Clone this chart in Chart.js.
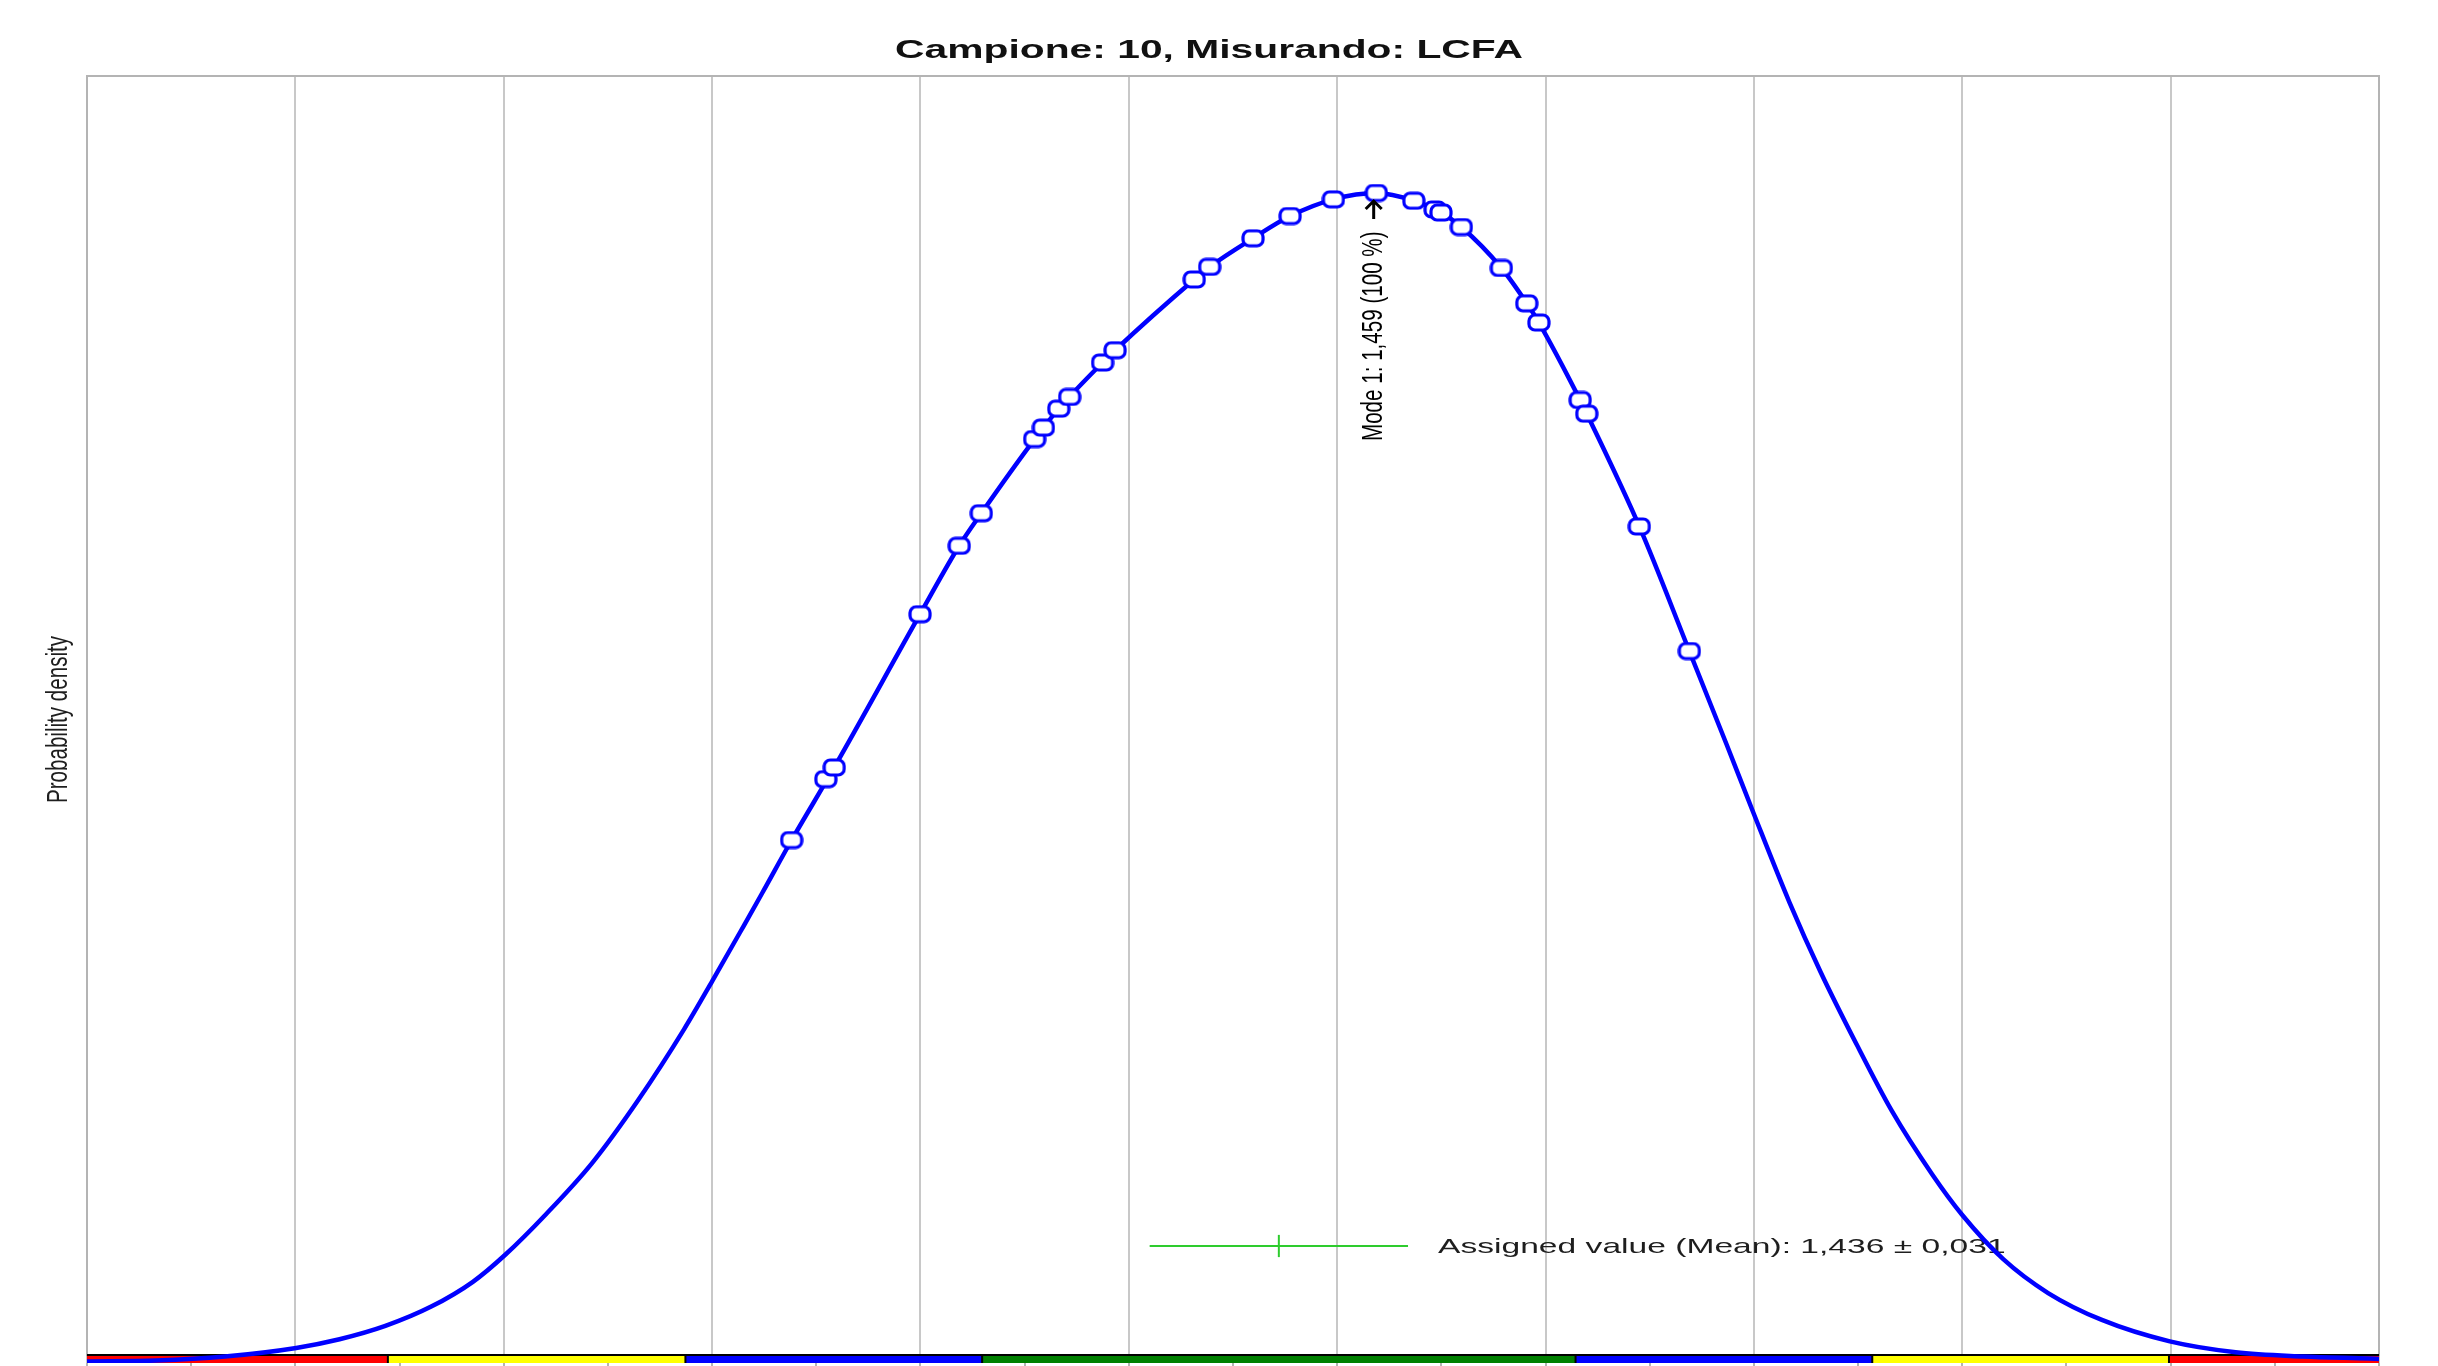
<!DOCTYPE html>
<html>
<head>
<meta charset="utf-8">
<title>Campione: 10, Misurando: LCFA</title>
<script src="https://cdn.jsdelivr.net/npm/chart.js@4.4.1/dist/chart.umd.min.js"></script>
<style>
  html, body { margin:0; padding:0; background:#fff; overflow:hidden; }
  canvas { display:block; }
</style>
</head>
<body>
<canvas id="kernelChart" width="2438" height="1366"></canvas>
<script>
// Kernel density of the results (relative density, mode = 1)
const curveX = [1.150, 1.1666, 1.1831, 1.2002, 1.2106, 1.2216, 1.2326, 1.2426, 1.2503, 1.2602,
  1.2712, 1.2822, 1.2933, 1.3001, 1.3076, 1.3120, 1.3191, 1.3293, 1.3499, 1.3593,
  1.3646, 1.3774, 1.3832, 1.3937, 1.3967, 1.4157, 1.4194, 1.4298, 1.4387, 1.4491,
  1.4594, 1.4684, 1.4749, 1.4798, 1.4894, 1.4955, 1.4984, 1.5083, 1.5099, 1.5225,
  1.5345, 1.5435, 1.5499, 1.5585, 1.5660, 1.5746, 1.5831, 1.5928, 1.5999, 1.6099,
  1.6206, 1.6335, 1.6498, 1.6656, 1.6817, 1.6977, 1.700];
const curveY = [0.0013, 0.0021, 0.0056, 0.0129, 0.0203, 0.0317, 0.0482, 0.0694, 0.0923, 0.1274,
  0.1709, 0.2244, 0.2854, 0.3268, 0.3737, 0.4015, 0.4470, 0.5090, 0.6400, 0.6985,
  0.7263, 0.7897, 0.8157, 0.8551, 0.8656, 0.9261, 0.9369, 0.9613, 0.9803, 0.9946,
  1.0000, 0.9934, 0.9833, 0.9709, 0.9359, 0.9057, 0.8893, 0.8231, 0.8114, 0.7150,
  0.6085, 0.5282, 0.4701, 0.3940, 0.3342, 0.2726, 0.2154, 0.1611, 0.1269, 0.0885,
  0.0598, 0.0368, 0.0185, 0.0092, 0.0056, 0.0038, 0.0035];

// Participants' results, plotted on the curve
const resultX = [1.3191, 1.3273, 1.3293, 1.3499, 1.3593, 1.3646, 1.3774, 1.3795, 1.3832, 1.3858,
  1.3937, 1.3967, 1.4157, 1.4194, 1.4298, 1.4387, 1.4491, 1.4594, 1.4684, 1.4735,
  1.4749, 1.4798, 1.4894, 1.4955, 1.4984, 1.5083, 1.5099, 1.5225, 1.5345];
const resultY = [0.4470, 0.4990, 0.5090, 0.6400, 0.6985, 0.7263, 0.7897, 0.7995, 0.8157, 0.8257,
  0.8551, 0.8656, 0.9261, 0.9369, 0.9613, 0.9803, 0.9946, 1.0000, 0.9934, 0.9859,
  0.9833, 0.9709, 0.9359, 0.9057, 0.8893, 0.8231, 0.8114, 0.7150, 0.6085];

// x axis ticks, a gridline on every second one
const xTicks = [1.15, 1.175, 1.20, 1.225, 1.25, 1.275, 1.30, 1.325, 1.35, 1.375, 1.40, 1.425,
  1.45, 1.475, 1.50, 1.525, 1.55, 1.575, 1.60, 1.625, 1.65, 1.675, 1.70];

// assigned value (mean) and uncertainty
const assignedValue = 1.436;
const assignedUnc = 0.031;
const assignedLevel = 0.1;
const assignedLabel = 'Assigned value (Mean): 1,436 \u00b1 0,031';

// mode
const modeValue = 1.459;
const modeDensity = 1.0;
const modeLabel = 'Mode 1: 1,459 (100 %)';

// colour band under the plot
const bandEdges = [1.15, 1.2222, 1.2936, 1.3648, 1.5072, 1.5784, 1.6496, 1.70];
const bandColors = ['#ff0000', '#ffff00', '#0000ff', '#008000', '#0000ff', '#ffff00', '#ff0000'];

const titleText = 'Campione: 10, Misurando: LCFA';
const yTitle = 'Probability density';

const FONT = '"Liberation Sans", Arial, sans-serif';

// open marker, wide and rounded like the stretched original
const marker = document.createElement('canvas');
marker.width = 24; marker.height = 19;
const mc = marker.getContext('2d');
mc.beginPath();
mc.roundRect(2, 2, 20, 15, 6);
mc.fillStyle = '#fff'; mc.fill();
mc.lineWidth = 3.2; mc.strokeStyle = '#0000ff'; mc.stroke();

function stretchedText(ctx, text, x, y, o){
  ctx.save();
  ctx.translate(x, y);
  ctx.scale(o.sx || 1, 1);
  if (o.rotate) ctx.rotate(o.rotate);
  ctx.font = o.font;
  ctx.fillStyle = o.color || '#111';
  ctx.textAlign = o.align || 'left';
  ctx.textBaseline = o.baseline || 'alphabetic';
  ctx.fillText(text, 0, 0);
  ctx.restore();
}

const decorations = {
  id: 'decorations',
  beforeDatasetsDraw(chart){
    const {ctx, chartArea: a, scales: {x, y}} = chart;
    const bTop = a.bottom - 8;
    ctx.save();
    // plot frame
    ctx.strokeStyle = '#b4b4b4';
    ctx.lineWidth = 2;
    ctx.strokeRect(a.left, a.top, a.right - a.left, bTop - a.top);
    // colour band
    for (let i = 0; i < bandColors.length; i++){
      const x0 = x.getPixelForValue(bandEdges[i]);
      const x1 = x.getPixelForValue(bandEdges[i + 1]);
      ctx.fillStyle = bandColors[i];
      ctx.fillRect(x0, bTop, x1 - x0, a.bottom - bTop);
    }
    ctx.strokeStyle = '#000';
    ctx.lineWidth = 2;
    ctx.beginPath();
    ctx.moveTo(a.left, bTop); ctx.lineTo(a.right, bTop);
    for (let i = 1; i < bandEdges.length - 1; i++){
      const xe = x.getPixelForValue(bandEdges[i]);
      ctx.moveTo(xe, bTop); ctx.lineTo(xe, a.bottom);
    }
    ctx.stroke();
    ctx.restore();

    // assigned value label (under the curve)
    const lx = x.getPixelForValue(assignedValue + assignedUnc) + 30;
    const ly = y.getPixelForValue(assignedLevel) + 7;
    stretchedText(ctx, assignedLabel, lx, ly, {font: '21px ' + FONT, sx: 1.6, color: '#1e1e1e'});
  },
  afterDatasetsDraw(chart){
    const {ctx, chartArea: a, scales: {x, y}} = chart;
    // mode arrow and label
    const px = x.getPixelForValue(modeValue) - 1;
    const tip = y.getPixelForValue(modeDensity) + 8;
    ctx.save();
    ctx.strokeStyle = '#000';
    ctx.lineWidth = 3;
    ctx.beginPath();
    ctx.moveTo(px - 8, tip + 8); ctx.lineTo(px, tip); ctx.lineTo(px + 8, tip + 8);
    ctx.moveTo(px, tip); ctx.lineTo(px, tip + 18);
    ctx.stroke();
    ctx.restore();
    stretchedText(ctx, modeLabel, px, tip + 240, {font: '20.6px ' + FONT, sx: 1.42,
      rotate: -Math.PI / 2, baseline: 'middle', color: '#000'});

    // title and y axis title
    stretchedText(ctx, titleText, 1209, 58, {font: 'bold 25.5px ' + FONT, sx: 1.6,
      align: 'center', color: '#111'});
    stretchedText(ctx, yTitle, 58.5, (a.top + a.bottom) / 2, {font: '20.6px ' + FONT, sx: 1.42,
      rotate: -Math.PI / 2, align: 'center', baseline: 'middle', color: '#1e1e1e'});
  }
};

const ctx = document.getElementById('kernelChart').getContext('2d');
const chart = new Chart(ctx, {
  type: 'line',
  data: {
    datasets: [
      {
        label: 'Results',
        data: resultX.map((v, i) => ({x: v, y: resultY[i]})),
        showLine: false,
        pointStyle: marker,
        pointRadius: 9
      },
      {
        label: 'Kernel density',
        data: curveX.map((v, i) => ({x: v, y: curveY[i]})),
        borderColor: '#0000ff',
        borderWidth: 4.5,
        pointRadius: 0,
        cubicInterpolationMode: 'monotone'
      },
      {
        label: 'Assigned value',
        data: [{x: assignedValue - assignedUnc, y: assignedLevel}, {x: assignedValue + assignedUnc, y: assignedLevel}],
        borderColor: '#2ecc2e',
        borderWidth: 2,
        pointRadius: 0
      },
      {
        label: 'Assigned value tick',
        data: [{x: assignedValue, y: assignedLevel - 0.0095}, {x: assignedValue, y: assignedLevel + 0.0095}],
        borderColor: '#2ecc2e',
        borderWidth: 2,
        pointRadius: 0
      }
    ]
  },
  options: {
    responsive: false,
    devicePixelRatio: 1,
    animation: false,
    events: [],
    layout: {autoPadding: false, padding: {left: 87, right: 59, top: 76, bottom: 0}},
    plugins: {legend: {display: false}, tooltip: {enabled: false}, title: {display: false}},
    scales: {
      x: {
        type: 'linear',
        min: 1.15,
        max: 1.70,
        afterBuildTicks: s => { s.ticks = xTicks.map(v => ({value: v})); },
        afterFit: s => { s.height = 3; },
        ticks: {display: false},
        border: {display: false},
        grid: {
          color: c => (c.index % 2 === 0 ? '#c8c8c8' : 'rgba(0,0,0,0)'),
          tickColor: '#b4b4b4',
          lineWidth: 2,
          drawTicks: true,
          tickLength: 3
        }
      },
      y: {display: false, min: 0, max: 1.1}
    }
  },
  plugins: [decorations]
});
</script>
</body>
</html>
